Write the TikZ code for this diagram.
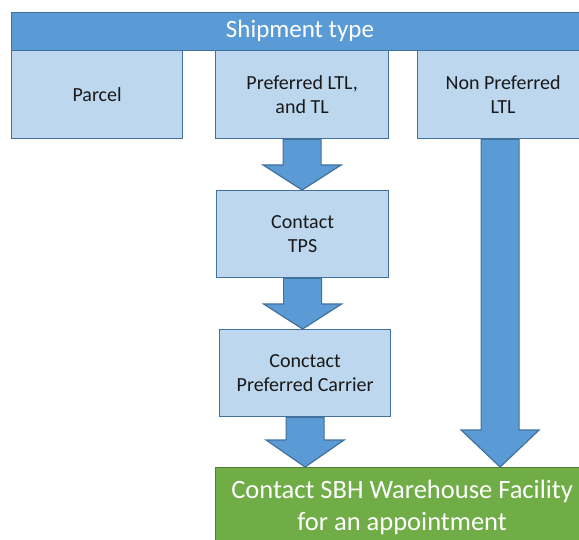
\documentclass[tikz,border=0pt]{standalone}
\usepackage{fontspec}
\setmainfont{Carlito}
\usetikzlibrary{calc}
\definecolor{hdrblue}{HTML}{5B9BD5}
\definecolor{edgeblue}{HTML}{41719C}
\definecolor{paleblue}{HTML}{BDD7EE}
\definecolor{leafgreen}{HTML}{70AD47}
\definecolor{edgegreen}{HTML}{507E32}
\tikzset{
  boxbase/.style={line width=1.2pt, anchor=north west, inner sep=0pt, align=center},
  header/.style={boxbase, draw=edgeblue, fill=hdrblue, text=white,
    font=\fontsize{25}{30}\selectfont},
  typebox/.style={boxbase, draw=edgeblue, fill=paleblue, text=black!90,
    font=\fontsize{20}{24}\selectfont},
  goalbox/.style={boxbase, draw=edgegreen, fill=leafgreen, text=white,
    font=\fontsize{26.5}{32}\selectfont},
  blockarrow/.style={draw=edgeblue, fill=hdrblue, line width=1.2pt, line join=miter},
}
% block arrow from the bottom of one node to the top of another;
% optional argument: head length; third argument: sideways shift
\newcommand{\flowarrow}[4][25]{%
  \path[blockarrow] let \p1=($(#2.south)+(#4,0)$), \p2=(#3.north) in
    ({\x1-19pt},\y1) -- ({\x1-19pt},{\y2+#1pt}) -- ({\x1-39pt},{\y2+#1pt})
    -- (\x1,\y2) -- ({\x1+39pt},{\y2+#1pt}) -- ({\x1+19pt},{\y2+#1pt})
    -- ({\x1+19pt},\y1) -- cycle;}
\begin{document}
\begin{tikzpicture}[x=1pt,y=-1pt]
\useasboundingbox (0,0) rectangle (579,540);
\clip (0,0) rectangle (579,540);

\node[header, minimum width=577pt, minimum height=38pt] (type) at (11,12) {};
\node[text=white, font=\fontsize{25}{30}\selectfont] (typelabel) at (300,31) {Shipment type};

\node[typebox, minimum width=171pt, minimum height=88pt] (parcel) at (11,50) {Parcel};
\node[typebox, minimum width=173pt, minimum height=88pt] (pref) at (215,50) {Preferred LTL,\\and TL};
\node[typebox, minimum width=171pt, minimum height=88pt] (nonpref) at (417,50) {Non Preferred\\LTL};

\node[typebox, minimum width=172pt, minimum height=87pt] (tps) at (216,190) {Contact\\TPS};
\node[typebox, minimum width=171pt, minimum height=87pt] (carrier) at (219,329) {Conctact\\Preferred Carrier};

\node[goalbox, minimum width=373pt, minimum height=80pt] (warehouse) at (215,467)
  {Contact SBH Warehouse Facility\\for an appointment};

\flowarrow{pref}{tps}{0}
\flowarrow{tps}{carrier}{0}
\flowarrow[27]{carrier}{warehouse}{0}
\flowarrow[37]{nonpref}{warehouse}{-3}
\end{tikzpicture}
\end{document}
